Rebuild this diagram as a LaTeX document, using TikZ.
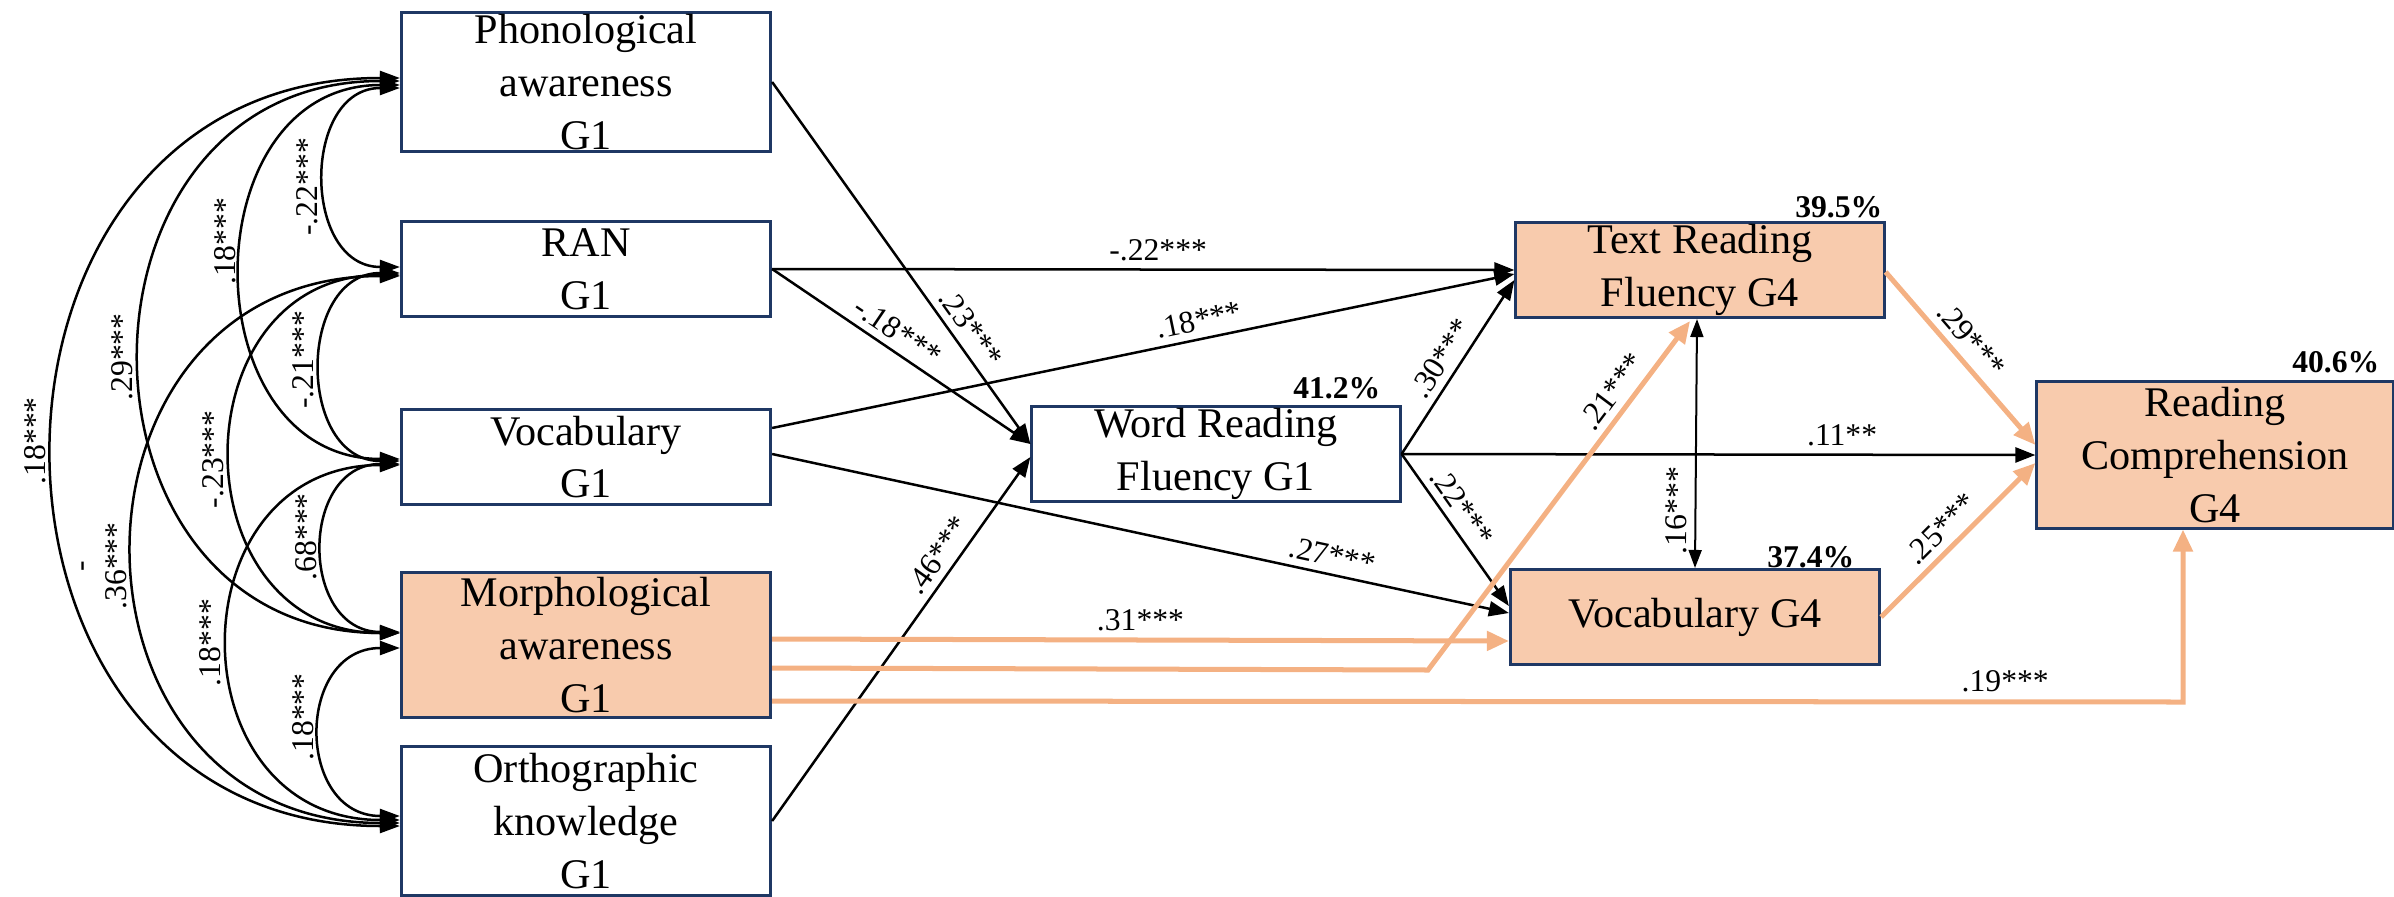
\documentclass[tikz,border=0pt]{standalone}
\usepackage{fontspec}
\setmainfont{Liberation Serif}
\usetikzlibrary{arrows.meta,calc}
\definecolor{peach}{RGB}{248,203,173}
\definecolor{orng}{RGB}{244,177,131}
\definecolor{navy}{RGB}{31,56,100}
\begin{document}
\begin{tikzpicture}[x=0.01cm,y=-0.01cm,
  vbox/.style={draw=navy,line width=0.03cm,minimum width=3.69cm,inner sep=0pt,align=center,font=\fontsize{12}{15}\selectfont},
  pbox/.style={vbox,fill=peach},
  lab/.style={font=\fontsize{9}{10}\selectfont,inner sep=2pt},
  clab/.style={lab,rotate=90,anchor=south},
  pct/.style={font=\fontsize{9}{10}\selectfont\bfseries,inner sep=0pt},
  blk/.style={line width=0.025cm,-{Triangle[length=0.2cm,width=0.15cm]}},
  dbl/.style={line width=0.02cm,{Triangle[length=0.18cm,width=0.13cm]}-{Triangle[length=0.18cm,width=0.13cm]}},
  org/.style={draw=orng,line width=0.05cm,-{Triangle[length=0.22cm,width=0.19cm]}},
  cor/.style={line width=0.025cm,{Triangle[length=0.2cm,width=0.14cm]}-{Triangle[length=0.2cm,width=0.14cm]}},
]
\useasboundingbox (0,0) rectangle (2394,897);
% boxes
\node[vbox,minimum height=1.38cm] (PA) at (586,82) {Phonological\\awareness\\G1};
\node[vbox,minimum height=0.94cm] (RAN) at (586,269) {RAN\\G1};
\node[vbox,minimum height=0.95cm] (VOC) at (586,457) {Vocabulary\\G1};
\node[pbox,minimum height=1.45cm] (MOR) at (586,645) {Morphological\\awareness\\G1};
\node[vbox,minimum height=1.48cm] (ORT) at (586,821) {Orthographic\\knowledge\\G1};
\node[vbox,minimum width=3.68cm,minimum height=0.94cm] (WRF) at (1216,454) {Word Reading\\Fluency G1};
\node[pbox,minimum width=3.68cm,minimum height=0.95cm] (TRF) at (1700,270) {Text Reading\\Fluency G4};
\node[pbox,minimum height=0.95cm] (V4) at (1695,617) {Vocabulary G4};
\node[pbox,minimum width=3.56cm,minimum height=1.46cm] (RC) at (2215,455) {Reading\\Comprehension\\G4};
% percentages
\node[pct,anchor=base east] (p1) at (1381,398) {41.2\%};
\node[pct,anchor=base east] (p2) at (1883,217) {39.5\%};
\node[pct,anchor=base east] (p3) at (1855,567) {37.4\%};
\node[pct,anchor=base east] (p4) at (2380,372) {40.6\%};
% correlations
\draw[cor] ($(RAN.west)+(0,-2)$) to[out=180,in=180,looseness=1.41] node[clab,pos=0.465]{-.22***} ($(PA.west)+(0,6)$);
\draw[cor] ($(VOC.west)+(0,2)$) to[out=180,in=180,looseness=1.44] node[clab,pos=0.555]{.18***} ($(PA.west)+(0,3)$);
\draw[cor] ($(MOR.west)+(0,-12)$) to[out=180,in=180,looseness=1.60] node[clab,pos=0.5]{.29***} ($(PA.west)+(0,-1)$);
\draw[cor] ($(ORT.west)+(0,5)$) to[out=180,in=180,looseness=1.58] node[clab,pos=0.51]{.18***} ($(PA.west)+(0,-4)$);
\draw[cor] ($(VOC.west)+(0,4)$) to[out=180,in=180,looseness=1.41] node[clab,pos=0.525]{-.21***} ($(RAN.west)+(0,4)$);
\draw[cor] ($(MOR.west)+(0,-12)$) to[out=180,in=180,looseness=1.60] node[clab,pos=0.49]{-.23***} ($(RAN.west)+(0,6)$);
\draw[cor] ($(ORT.west)+(0,2)$) to[out=180,in=180,looseness=1.66] node[clab,pos=0.48,align=center]{-\\.36***} ($(RAN.west)+(0,7)$);
\draw[cor] ($(MOR.west)+(0,-13)$) to[out=180,in=180,looseness=1.54] node[clab,pos=0.545]{.68***} ($(VOC.west)+(0,7)$);
\draw[cor] ($(ORT.west)+(0,-1)$) to[out=180,in=180,looseness=1.64] node[clab,pos=0.5]{.18***} ($(VOC.west)+(0,8)$);
\draw[cor] ($(ORT.west)+(0,-5)$) to[out=180,in=180,looseness=1.60] node[clab,pos=0.56]{.18***} ($(MOR.west)+(0,3)$);
% black paths
\draw[blk] (PA.east) -- node[lab,sloped,above,pos=0.71]{.23***} ($(WRF.west)+(0,-10)$);
\draw[blk] (RAN.east) -- node[lab,sloped,above,pos=0.445]{-.18***} ($(WRF.west)+(0,-10)$);
\draw[blk] (RAN.east) -- node[lab,above,pos=0.52]{-.22***} (TRF.west);
\draw[blk] ($(VOC.east)+(0,-29)$) -- node[lab,sloped,above,pos=0.58]{.18***} ($(TRF.west)+(0,4)$);
\draw[blk] ($(VOC.east)+(0,-3)$) -- node[lab,sloped,above,pos=0.755]{.27***} ($(V4.west)+(0,-4)$);
\draw[blk] (ORT.east) -- node[lab,sloped,above,pos=0.70]{.46***} ($(WRF.west)+(0,3)$);
\draw[blk] (WRF.east) -- node[lab,sloped,above,pos=0.49]{.30***} ($(TRF.west)+(0,10)$);
\draw[blk] (WRF.east) -- node[lab,above,pos=0.695]{.11**} (RC.west);
\draw[blk] (WRF.east) -- node[lab,sloped,above,pos=0.42]{.22***} ($(V4.west)+(0,-11)$);
\draw[dbl] (V4.north) -- node[lab,sloped,above,pos=0.23]{.16***} ($(TRF.south)+(-3,0)$);
% orange paths
\coordinate (c21) at (1428,670);
\coordinate (c19) at (2183,702);
\draw[org] ($(MOR.east)+(0,-6)$) -- node[lab,above,pos=0.5]{.31***} ($(V4.west)+(0,24)$);
\draw[org] ($(MOR.east)+(0,23)$) -- (c21) -- node[lab,sloped,above,pos=0.764]{.21***} ($(TRF.south)+(-10,2)$);
\draw[org] ($(MOR.east)+(0,56)$) -- node[lab,above,pos=0.874]{.19***} (c19) -- (c19 |- RC.south);
\draw[org] ($(TRF.east)+(0,2)$) -- node[lab,sloped,above,pos=0.47]{.29***} ($(RC.west)+(0,-10)$);
\draw[org] (V4.east) -- node[lab,sloped,above,pos=0.48]{.25***} ($(RC.west)+(0,8)$);
\end{tikzpicture}
\end{document}
